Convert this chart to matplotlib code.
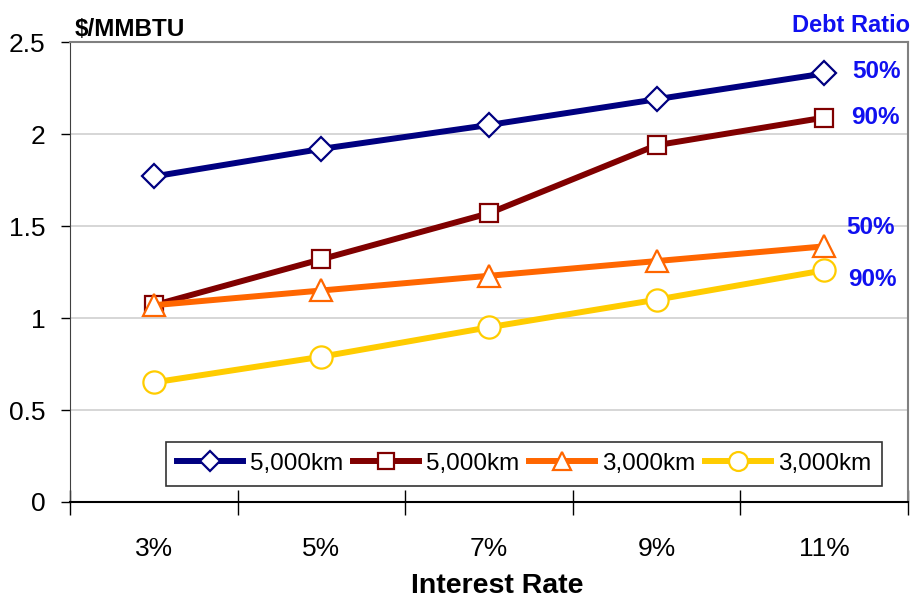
import numpy as np
import matplotlib
matplotlib.use("Agg")
import matplotlib.pyplot as plt

plt.rcParams['font.family'] = ['Liberation Sans', 'DejaVu Sans']

# interest rate categories and cost per MMBTU
rates = ["3%", "5%", "7%", "9%", "11%"]
km5000_50 = [1.77, 1.92, 2.05, 2.19, 2.33]
km5000_90 = [1.07, 1.32, 1.57, 1.94, 2.09]
km3000_50 = [1.07, 1.15, 1.23, 1.31, 1.39]
km3000_90 = [0.65, 0.79, 0.95, 1.10, 1.26]

series = [
    (km5000_50, "#000080", "D", 12, "5,000km"),
    (km5000_90, "#800000", "s", 13, "5,000km"),
    (km3000_50, "#FF6600", "^", 16, "3,000km"),
    (km3000_90, "#FFCC00", "o", 16, "3,000km"),
]
ratio_labels = [("50%", 2.34), ("90%", 2.09), ("50%", 1.49), ("90%", 1.21)]
ratio_x = [4.17, 4.16, 4.13, 4.14]

fig = plt.figure(figsize=(9.12, 6.03), dpi=100)
ax = fig.add_axes([0.0768, 0.1675, 0.9188, 0.7625])

x = np.arange(len(rates))
for vals, col, mk, ms, lab in series:
    ax.plot(x, vals, color=col, lw=4.3, marker=mk, ms=ms, mfc="white",
            mec=col, mew=1.6, label=lab, zorder=3)

ax.set_xlim(-0.5, len(rates) - 0.5)
ax.set_ylim(0, 2.5)
ax.set_yticks(np.arange(0, 2.51, 0.5))
ax.set_yticklabels(["0", "0.5", "1", "1.5", "2", "2.5"])
ax.yaxis.grid(True, color="#d0d0d0", lw=1.2, zorder=0)

# category boundaries as crossing ticks, labels centred on categories
ax.set_xticks(np.arange(-0.5, len(rates), 1.0))
ax.set_xticklabels([])
ax.set_xticks(x, minor=True)
ax.set_xticklabels(rates, minor=True)
ax.tick_params(axis="x", which="major", direction="inout", length=18, width=1, color="black")
ax.tick_params(axis="x", which="minor", length=0, pad=25, labelsize=19)
ax.tick_params(axis="y", direction="out", length=6.5, width=1, pad=11, labelsize=19)

for s in ["top", "right"]:
    ax.spines[s].set_color("#808080")
    ax.spines[s].set_linewidth(1.5)
ax.spines["left"].set_color("#404040")
ax.spines["bottom"].set_color("black")
ax.spines["bottom"].set_linewidth(1.5)

fig.text(0.545, 0.006, "Interest Rate", fontsize=20.5, fontweight="bold",
         ha="center", va="bottom")
ax.text(0.006, 1.013, "$/MMBTU", transform=ax.transAxes, fontsize=17.5,
        fontweight="bold", va="baseline", ha="left")
ax.text(1.002, 1.022, "Debt Ratio", transform=ax.transAxes, fontsize=17,
        fontweight="bold", color="#1010F0", va="baseline", ha="right")

for (txt, yv), xv in zip(ratio_labels, ratio_x):
    ax.text(xv, yv, txt, fontsize=17.5, fontweight="bold", color="#1010F0",
            va="center", ha="left")

leg = ax.legend(loc="center", bbox_to_anchor=(0.542, 0.083), ncol=4,
                fontsize=17.5, frameon=True, fancybox=False, handlelength=2.7,
                handletextpad=0.3, columnspacing=0.4, borderpad=0.45,
                borderaxespad=0)
leg.get_frame().set_edgecolor("black")
leg.get_frame().set_linewidth(1.2)
for h in leg.legend_handles:
    h.set_markersize(h.get_markersize() * 0.85)

fig.savefig("out.png", dpi=100)
